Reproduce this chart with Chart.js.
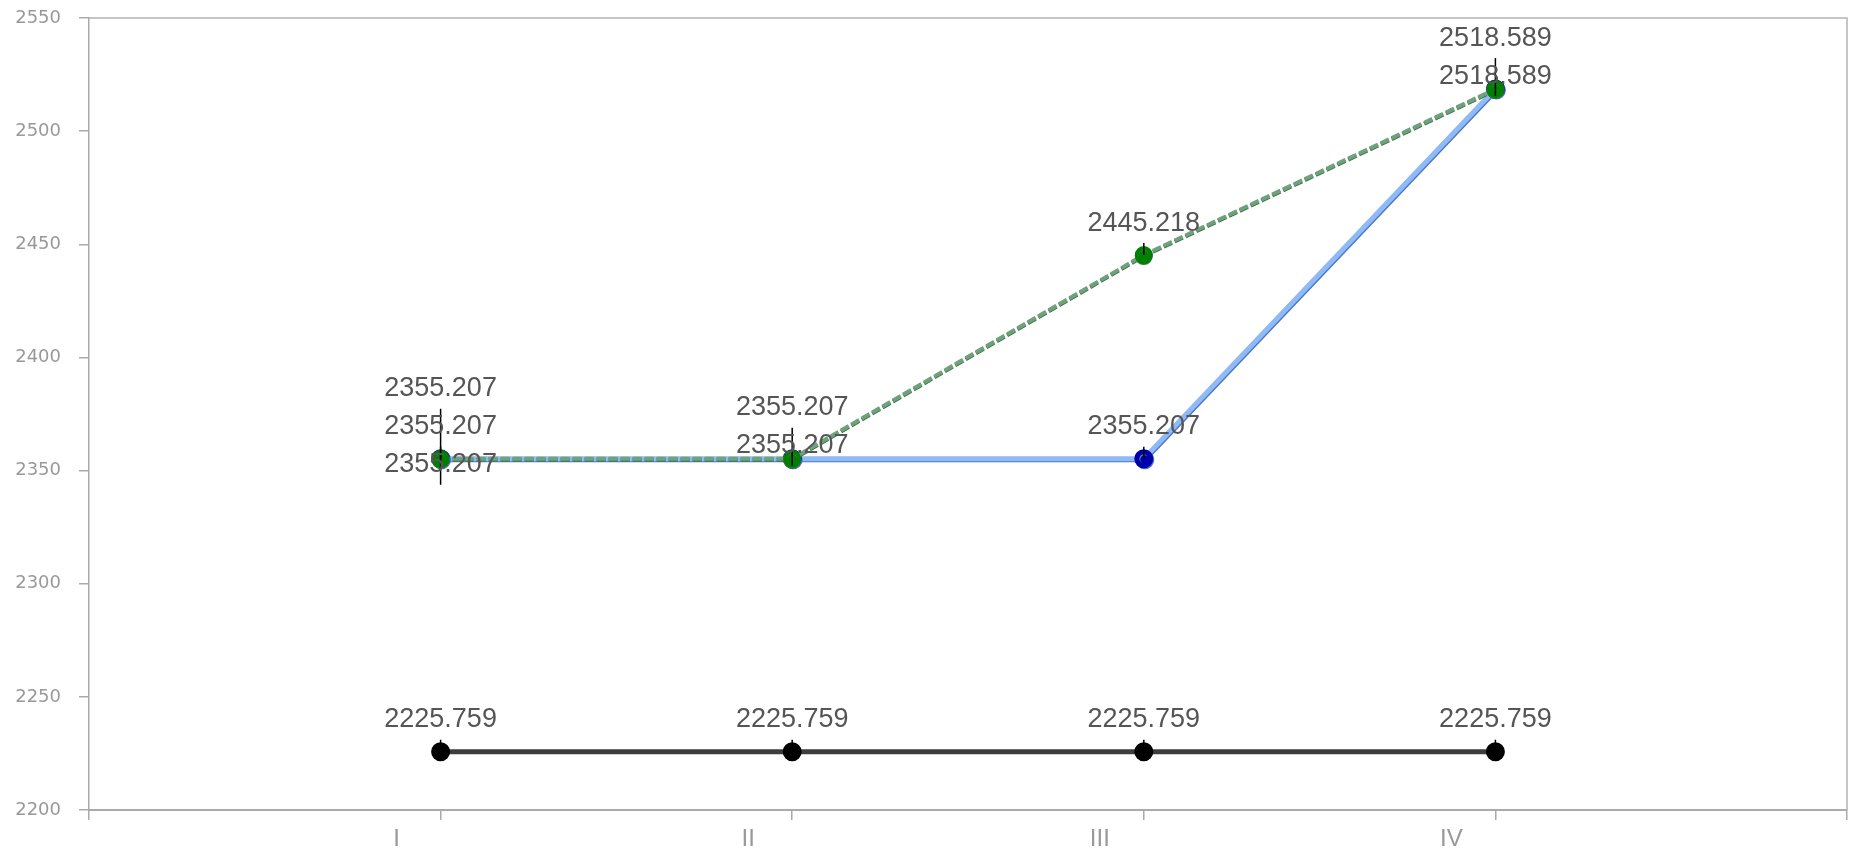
<!DOCTYPE html>
<html>
<head>
<meta charset="utf-8">
<script src="https://cdn.jsdelivr.net/npm/chart.js@4"></script>
<style>
  html, body { margin: 0; padding: 0; background: #fff; overflow: hidden; }
</style>
</head>
<body>
<canvas id="chart" width="1849" height="854"></canvas>
<script>
// category labels and their slot on the x axis
const categories = ['I', 'II', 'III', 'IV'];
const categorySlots = [1, 2, 3, 4];

// series values
const blueValues = [2355.207, 2355.207, 2355.207, 2518.589];
const greenValues = [2355.207, 2355.207, 2445.218, 2518.589];
const extraValues = [2355.207, null, null, null];
const blackValues = [2225.759, 2225.759, 2225.759, 2225.759];

// y ticks
const yTicks = [2200, 2250, 2300, 2350, 2400, 2450, 2500, 2550];

function toPoints(values) {
    return values.map((v, i) => ({ x: categorySlots[i], y: v }));
}

// thin line shadow so lines look a bit like the original
const shadowPlugin = {
    id: 'lineShadow',
    beforeDatasetDraw(chart, args) {
        const ds = chart.data.datasets[args.index];
        if (!ds.shadow) return;
        const ctx = chart.ctx;
        ctx.save();
        ctx.shadowColor = ds.shadow.color;
        ctx.shadowOffsetX = ds.shadow.x;
        ctx.shadowOffsetY = ds.shadow.y;
        ctx.shadowBlur = 0;
    },
    afterDatasetDraw(chart, args) {
        const ds = chart.data.datasets[args.index];
        if (ds.shadow) chart.ctx.restore();
    }
};

// top + right frame of the plot area
const framePlugin = {
    id: 'frame',
    afterDraw(chart) {
        const { ctx, chartArea: a } = chart;
        ctx.save();
        ctx.strokeStyle = '#b4b4b4';
        ctx.lineWidth = 1.5;
        ctx.beginPath();
        ctx.moveTo(a.left, a.top);
        ctx.lineTo(a.right, a.top);
        ctx.lineTo(a.right, a.bottom);
        ctx.stroke();
        ctx.restore();
    }
};

// value labels above points, spread out when they collide
const valueLabelPlugin = {
    id: 'valueLabels',
    afterDatasetsDraw(chart) {
        const ctx = chart.ctx;
        const groups = {};
        chart.data.datasets.forEach((ds, di) => {
            const meta = chart.getDatasetMeta(di);
            meta.data.forEach((pt, i) => {
                const v = ds.data[i].y;
                if (v == null) return;
                (groups[i] = groups[i] || []).push({
                    x: pt.x, py: pt.y, text: v.toFixed(3), y: pt.y - 32
                });
            });
        });

        const items = [];
        Object.values(groups).forEach(list => {
            list.sort((a, b) => a.y - b.y);
            const clusters = [];
            list.forEach(it => {
                const last = clusters[clusters.length - 1];
                if (last && it.y - last[last.length - 1].y < 36) last.push(it);
                else clusters.push([it]);
            });
            clusters.forEach(cl => {
                const c = cl.reduce((s, it) => s + it.y, 0) / cl.length;
                cl.forEach((it, k) => { it.y = c + (k - (cl.length - 1) / 2) * 38; });
            });
            items.push(...list);
        });

        ctx.save();
        // leader lines
        ctx.strokeStyle = '#000';
        ctx.lineWidth = 1.5;
        items.forEach(it => {
            ctx.beginPath();
            ctx.moveTo(it.x, it.py);
            ctx.lineTo(it.x, it.y + 20);
            ctx.stroke();
        });
        // texts
        ctx.fillStyle = '#555555';
        ctx.font = '27px "Liberation Sans", Arial, sans-serif';
        ctx.textAlign = 'center';
        ctx.textBaseline = 'middle';
        items.forEach(it => ctx.fillText(it.text, it.x, it.y));
        ctx.restore();
    }
};

new Chart(document.getElementById('chart'), {
    type: 'line',
    data: {
        datasets: [
            {
                label: 'green',
                data: toPoints(greenValues),
                borderColor: '#6fa27c',
                borderWidth: 4,
                borderDash: [9, 3],
                pointBackgroundColor: '#008000',
                pointBorderColor: '#008000',
                pointRadius: 7,
                shadow: { color: '#3f7149', x: 0, y: 1 }
            },
            {
                label: 'extra',
                data: toPoints(extraValues),
                showLine: false,
                pointBackgroundColor: '#008000',
                pointBorderColor: '#008000',
                pointRadius: 7
            },
            {
                label: 'blue',
                data: toPoints(blueValues),
                borderColor: '#8fbaf6',
                borderWidth: 5,
                pointBackgroundColor: '#0000a8',
                pointBorderColor: '#0000a8',
                pointRadius: 7,
                shadow: { color: '#4a78c8', x: 1, y: 1 }
            },
            {
                label: 'black',
                data: toPoints(blackValues),
                borderColor: '#3d3d3d',
                borderWidth: 5,
                pointBackgroundColor: '#000',
                pointBorderColor: '#000',
                pointRadius: 7
            }
        ]
    },
    options: {
        responsive: false,
        animation: false,
        devicePixelRatio: 1,
        events: [],
        layout: { autoPadding: false, padding: { top: 18, right: 2, left: 0, bottom: 0 } },
        plugins: {
            legend: { display: false },
            tooltip: { enabled: false }
        },
        scales: {
            x: {
                type: 'linear',
                min: 0,
                max: 5,
                afterFit: s => {
                    s.height = 44;
                    s.paddingLeft = 0;
                    s.paddingRight = 0;
                },
                ticks: {
                    stepSize: 1,
                    color: '#999',
                    font: { family: '"Liberation Sans Narrow", "Arial Narrow", sans-serif', size: 24 },
                    padding: 5,
                    labelOffset: -44,
                    maxRotation: 0,
                    callback: v => categories[categorySlots.indexOf(v)] || ''
                },
                grid: { drawOnChartArea: false, color: '#aaa', tickLength: 10, lineWidth: 1.5 },
                border: { color: '#aaa', width: 2 }
            },
            y: {
                min: yTicks[0],
                max: yTicks[yTicks.length - 1],
                afterFit: s => {
                    s.width = 89;
                    s.paddingTop = 0;
                    s.paddingBottom = 0;
                },
                afterBuildTicks: s => { s.ticks = yTicks.map(v => ({ value: v })); },
                ticks: {
                    color: '#999',
                    font: { family: '"DejaVu Sans", sans-serif', size: 18 },
                    padding: 18,
                    callback: v => String(v)
                },
                grid: { drawOnChartArea: false, color: '#aaa', tickLength: 10, lineWidth: 1.5 },
                border: { color: '#aaa', width: 1.5 }
            }
        }
    },
    plugins: [shadowPlugin, framePlugin, valueLabelPlugin]
});
</script>
</body>
</html>
